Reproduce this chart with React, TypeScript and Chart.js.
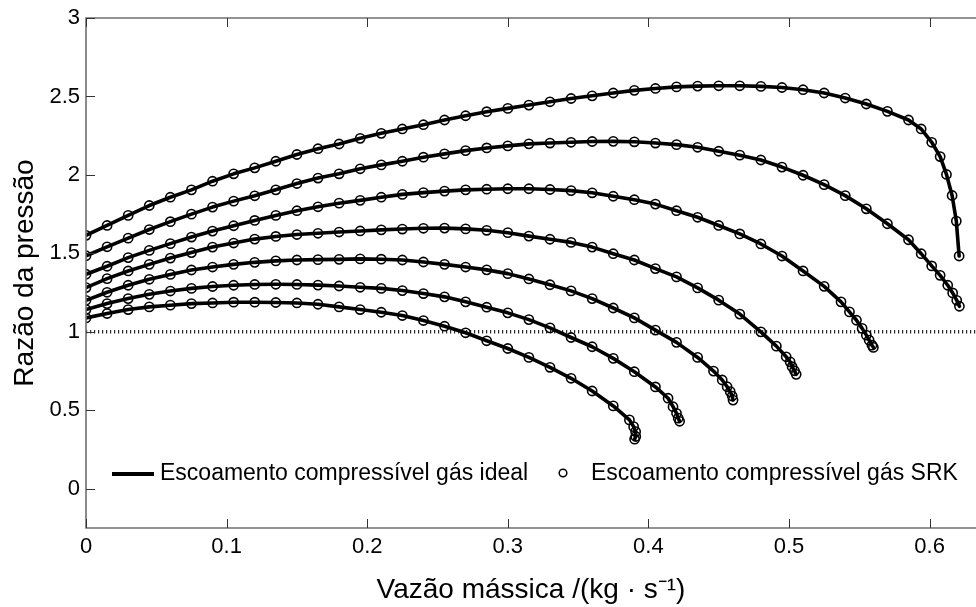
import React, { useEffect, useRef } from 'react';
import { Chart, registerables } from 'chart.js';

Chart.register(...registerables);

// ---------- axis ranges & ticks ----------
const X_MIN = 0;
const X_MAX = 0.633;
const Y_MIN = -0.25;
const Y_MAX = 3;
const X_TICKS = [0, 0.1, 0.2, 0.3, 0.4, 0.5, 0.6];
const Y_TICKS = [0, 0.5, 1, 1.5, 2, 2.5, 3];
const REF_Y = 1;

const X_TITLE = 'Vazão mássica /(kg · s⁻¹)';
const Y_TITLE = 'Razão da pressão';
const LEGEND_LABELS = ['Escoamento compressível gás ideal', 'Escoamento compressível gás SRK'];

// ---------- curves: [mass flow, pressure ratio] ----------
const CURVE_1: [number, number][] = [
  [0, 1.615], [0.015, 1.678], [0.03, 1.742], [0.045, 1.805], [0.06, 1.858], [0.075, 1.905],
  [0.09, 1.96], [0.105, 2.007], [0.12, 2.045], [0.135, 2.087], [0.15, 2.13], [0.165, 2.167],
  [0.18, 2.197], [0.195, 2.233], [0.21, 2.265], [0.225, 2.293], [0.24, 2.32], [0.255, 2.35],
  [0.27, 2.377], [0.285, 2.403], [0.3, 2.424], [0.315, 2.445], [0.33, 2.466], [0.345, 2.487],
  [0.36, 2.504], [0.375, 2.522], [0.39, 2.539], [0.405, 2.551], [0.42, 2.561], [0.435, 2.566],
  [0.45, 2.568], [0.465, 2.568], [0.48, 2.564], [0.495, 2.557], [0.51, 2.543], [0.525, 2.522],
  [0.54, 2.49], [0.555, 2.452], [0.57, 2.405], [0.585, 2.35], [0.594, 2.293], [0.6015, 2.208],
  [0.6075, 2.117], [0.612, 2.003], [0.616, 1.869], [0.619, 1.706], [0.621, 1.483],
];
const CURVE_2: [number, number][] = [
  [0, 1.485], [0.015, 1.542], [0.03, 1.597], [0.045, 1.652], [0.06, 1.702], [0.075, 1.75],
  [0.09, 1.795], [0.105, 1.833], [0.12, 1.867], [0.135, 1.905], [0.15, 1.945], [0.165, 1.98],
  [0.18, 2.007], [0.195, 2.039], [0.21, 2.064], [0.225, 2.087], [0.24, 2.113], [0.255, 2.134],
  [0.27, 2.155], [0.285, 2.172], [0.3, 2.185], [0.315, 2.198], [0.33, 2.203], [0.345, 2.208],
  [0.36, 2.213], [0.375, 2.214], [0.39, 2.211], [0.405, 2.203], [0.42, 2.193], [0.435, 2.176],
  [0.45, 2.151], [0.465, 2.126], [0.48, 2.095], [0.495, 2.05], [0.51, 1.998], [0.525, 1.938],
  [0.54, 1.868], [0.555, 1.784], [0.57, 1.689], [0.585, 1.587], [0.594, 1.498], [0.6015, 1.42],
  [0.6075, 1.36], [0.6129, 1.297], [0.6164, 1.248], [0.6193, 1.201], [0.6212, 1.163],
];
const CURVE_3: [number, number][] = [
  [0, 1.367], [0.015, 1.418], [0.03, 1.473], [0.045, 1.519], [0.06, 1.562], [0.075, 1.604],
  [0.09, 1.642], [0.105, 1.676], [0.12, 1.71], [0.135, 1.742], [0.15, 1.772], [0.165, 1.797],
  [0.18, 1.82], [0.195, 1.838], [0.21, 1.858], [0.225, 1.876], [0.24, 1.887], [0.255, 1.897],
  [0.27, 1.905], [0.285, 1.909], [0.3, 1.912], [0.315, 1.912], [0.33, 1.907], [0.345, 1.9],
  [0.36, 1.886], [0.375, 1.864], [0.39, 1.842], [0.405, 1.814], [0.42, 1.772], [0.435, 1.73],
  [0.45, 1.678], [0.465, 1.624], [0.48, 1.56], [0.495, 1.483], [0.51, 1.388], [0.525, 1.29],
  [0.537, 1.191], [0.543, 1.127], [0.548, 1.074], [0.552, 1.022], [0.555, 0.979], [0.557, 0.947],
  [0.559, 0.915], [0.56, 0.901],
];
const CURVE_4: [number, number][] = [
  [0, 1.282], [0.015, 1.339], [0.03, 1.388], [0.045, 1.43], [0.06, 1.47], [0.075, 1.505],
  [0.09, 1.54], [0.105, 1.566], [0.12, 1.591], [0.135, 1.608], [0.15, 1.62], [0.165, 1.628],
  [0.18, 1.636], [0.195, 1.643], [0.21, 1.65], [0.225, 1.655], [0.24, 1.66], [0.255, 1.661],
  [0.27, 1.656], [0.285, 1.647], [0.3, 1.632], [0.315, 1.61], [0.33, 1.59], [0.345, 1.57],
  [0.36, 1.54], [0.375, 1.498], [0.39, 1.458], [0.405, 1.403], [0.42, 1.35], [0.435, 1.28],
  [0.45, 1.202], [0.465, 1.113], [0.48, 1.0], [0.491, 0.909], [0.498, 0.841], [0.5008, 0.809],
  [0.5022, 0.778], [0.5039, 0.752], [0.5051, 0.729],
];
const CURVE_5: [number, number][] = [
  [0, 1.201], [0.015, 1.252], [0.03, 1.297], [0.045, 1.335], [0.06, 1.366], [0.075, 1.394],
  [0.09, 1.413], [0.105, 1.43], [0.12, 1.443], [0.135, 1.452], [0.15, 1.458], [0.165, 1.46],
  [0.18, 1.462], [0.195, 1.465], [0.21, 1.463], [0.225, 1.458], [0.24, 1.445], [0.255, 1.43],
  [0.27, 1.413], [0.285, 1.395], [0.3, 1.371], [0.315, 1.337], [0.33, 1.3], [0.345, 1.261],
  [0.36, 1.212], [0.375, 1.152], [0.39, 1.089], [0.405, 1.011], [0.42, 0.933], [0.435, 0.837],
  [0.4463, 0.75], [0.4525, 0.693], [0.456, 0.65], [0.4582, 0.619], [0.4596, 0.591], [0.4602, 0.565],
];
const CURVE_6: [number, number][] = [
  [0, 1.142], [0.015, 1.18], [0.03, 1.212], [0.045, 1.239], [0.06, 1.26], [0.075, 1.277],
  [0.09, 1.289], [0.105, 1.297], [0.12, 1.302], [0.135, 1.303], [0.15, 1.302], [0.165, 1.298],
  [0.18, 1.292], [0.195, 1.284], [0.21, 1.277], [0.225, 1.263], [0.24, 1.244], [0.255, 1.223],
  [0.27, 1.191], [0.285, 1.157], [0.3, 1.121], [0.315, 1.078], [0.33, 1.025], [0.345, 0.964],
  [0.36, 0.905], [0.375, 0.831], [0.39, 0.746], [0.405, 0.649], [0.414, 0.577], [0.4175, 0.523],
  [0.42, 0.481], [0.4212, 0.45], [0.4222, 0.43],
];
const CURVE_7: [number, number][] = [
  [0, 1.089], [0.015, 1.117], [0.03, 1.142], [0.045, 1.159], [0.06, 1.17], [0.075, 1.18],
  [0.09, 1.184], [0.105, 1.189], [0.12, 1.189], [0.135, 1.187], [0.15, 1.184], [0.165, 1.176],
  [0.18, 1.159], [0.195, 1.142], [0.21, 1.125], [0.225, 1.104], [0.24, 1.072], [0.255, 1.036],
  [0.27, 0.994], [0.285, 0.943], [0.3, 0.894], [0.315, 0.837], [0.33, 0.774], [0.345, 0.704],
  [0.36, 0.623], [0.375, 0.528], [0.3865, 0.439], [0.3895, 0.396], [0.3909, 0.364], [0.391, 0.333],
  [0.3902, 0.316],
];
const CURVES = [CURVE_1, CURVE_2, CURVE_3, CURVE_4, CURVE_5, CURVE_6, CURVE_7];

// ---------- styles ----------
const FONT = "'Liberation Sans', Arial, sans-serif";
const AXIS_COLOR = '#6f6f6f';
const TICK_COLOR = '#333333';
const TICK_LEN = 9;

const framePlugin = {
  id: 'frameAndLegend',
  afterDraw(chart: any) {
    const { ctx, chartArea: a, scales } = chart;
    const xs = scales.x;
    const ys = scales.y;
    ctx.save();
    // frame (top, left, bottom)
    ctx.strokeStyle = AXIS_COLOR;
    ctx.lineWidth = 1.6;
    ctx.beginPath();
    ctx.moveTo(a.right + 2, a.top);
    ctx.lineTo(a.left, a.top);
    ctx.lineTo(a.left, a.bottom);
    ctx.lineTo(a.right + 2, a.bottom);
    ctx.stroke();
    // inward ticks
    ctx.strokeStyle = TICK_COLOR;
    ctx.lineWidth = 1;
    ctx.beginPath();
    X_TICKS.forEach((v) => {
      const px = Math.round(xs.getPixelForValue(v)) + 0.5;
      ctx.moveTo(px, a.bottom);
      ctx.lineTo(px, a.bottom - TICK_LEN);
      ctx.moveTo(px, a.top);
      ctx.lineTo(px, a.top + TICK_LEN);
    });
    Y_TICKS.forEach((v) => {
      const py = Math.round(ys.getPixelForValue(v)) + 0.5;
      ctx.moveTo(a.left, py);
      ctx.lineTo(a.left + TICK_LEN, py);
    });
    ctx.stroke();

    // legend inside plot area
    const ly = a.bottom - 54;
    const lx = a.left + 26;
    ctx.fillStyle = '#000';
    ctx.strokeStyle = '#000';
    ctx.font = `23px ${FONT}`;
    ctx.textBaseline = 'middle';
    ctx.textAlign = 'left';
    ctx.lineWidth = 3.8;
    ctx.beginPath();
    ctx.moveTo(lx, ly);
    ctx.lineTo(lx + 42, ly);
    ctx.stroke();
    ctx.fillText(LEGEND_LABELS[0], lx + 48, ly);
    const cx = lx + 451;
    ctx.lineWidth = 1.5;
    ctx.beginPath();
    ctx.arc(cx, ly - 1, 3.8, 0, Math.PI * 2);
    ctx.stroke();
    ctx.fillText(LEGEND_LABELS[1], cx + 28, ly);
    ctx.restore();
  },
};

export default function App() {
  const ref = useRef<HTMLCanvasElement>(null);

  useEffect(() => {
    const canvas = ref.current;
    if (!canvas) return;
    const datasets: any[] = [];
    CURVES.forEach((c) => {
      datasets.push({
        type: 'line',
        label: LEGEND_LABELS[1],
        data: c.map(([x, y]) => ({ x, y })),
        showLine: false,
        pointRadius: 4.6,
        pointBorderWidth: 1.6,
        pointBorderColor: '#000',
        pointBackgroundColor: 'rgba(255,255,255,0)',
        borderColor: '#000',
      });
    });
    CURVES.forEach((c) => {
      datasets.push({
        type: 'line',
        label: LEGEND_LABELS[0],
        data: c.map(([x, y]) => ({ x, y })),
        borderColor: '#000',
        borderWidth: 3.6,
        pointRadius: 0,
        fill: false,
        tension: 0,
        borderJoinStyle: 'round',
        borderCapStyle: 'round',
      });
    });
    datasets.push({
      type: 'line',
      label: 'ref',
      data: [
        { x: X_MIN, y: REF_Y },
        { x: X_MAX, y: REF_Y },
      ],
      borderColor: '#2a2a2a',
      borderWidth: 3.5,
      borderDash: [1.2, 2.8],
      pointRadius: 0,
      fill: false,
    });

    const chart = new Chart(canvas, {
      type: 'scatter',
      data: { datasets },
      options: {
        animation: false,
        responsive: false,
        devicePixelRatio: 1,
        layout: { autoPadding: false, padding: { top: 18, left: 0, right: 0, bottom: 0 } },
        plugins: { legend: { display: false }, tooltip: { enabled: false } },
        scales: {
          x: {
            type: 'linear',
            min: X_MIN,
            max: X_MAX,
            afterBuildTicks: (s: any) => {
              s.ticks = X_TICKS.map((v) => ({ value: v }));
            },
            afterFit: (s: any) => {
              s.height = 79;
              s.paddingLeft = 0;
              s.paddingRight = 0;
            },
            grid: { display: false, drawTicks: false },
            border: { display: false },
            ticks: {
              color: '#000',
              font: { family: FONT, size: 22 },
              padding: 6,
              maxRotation: 0,
              autoSkip: false,
              callback: (v: any) => String(v),
            },
            title: {
              display: true,
              text: X_TITLE,
              color: '#000',
              font: { family: FONT, size: 28 },
              padding: { top: 0, bottom: 0 },
            },
          },
          y: {
            type: 'linear',
            min: Y_MIN,
            max: Y_MAX,
            afterBuildTicks: (s: any) => {
              s.ticks = Y_TICKS.map((v) => ({ value: v }));
            },
            afterFit: (s: any) => {
              s.width = 86;
              s.paddingTop = 0;
              s.paddingBottom = 0;
            },
            grid: { display: false, drawTicks: false },
            border: { display: false },
            ticks: {
              color: '#000',
              font: { family: FONT, size: 22 },
              padding: 6,
              autoSkip: false,
              callback: (v: any) => String(v),
            },
            title: {
              display: true,
              text: Y_TITLE,
              color: '#000',
              font: { family: FONT, size: 28 },
              padding: { top: 8, bottom: 0 },
            },
          },
        },
      },
      plugins: [framePlugin],
    } as any);
    return () => chart.destroy();
  }, []);

  return (
    <div style={{ position: 'absolute', left: 0, top: 0, width: 976, height: 607, background: '#fff' }}>
      <canvas ref={ref} width={976} height={607} style={{ display: 'block' }} />
    </div>
  );
}
